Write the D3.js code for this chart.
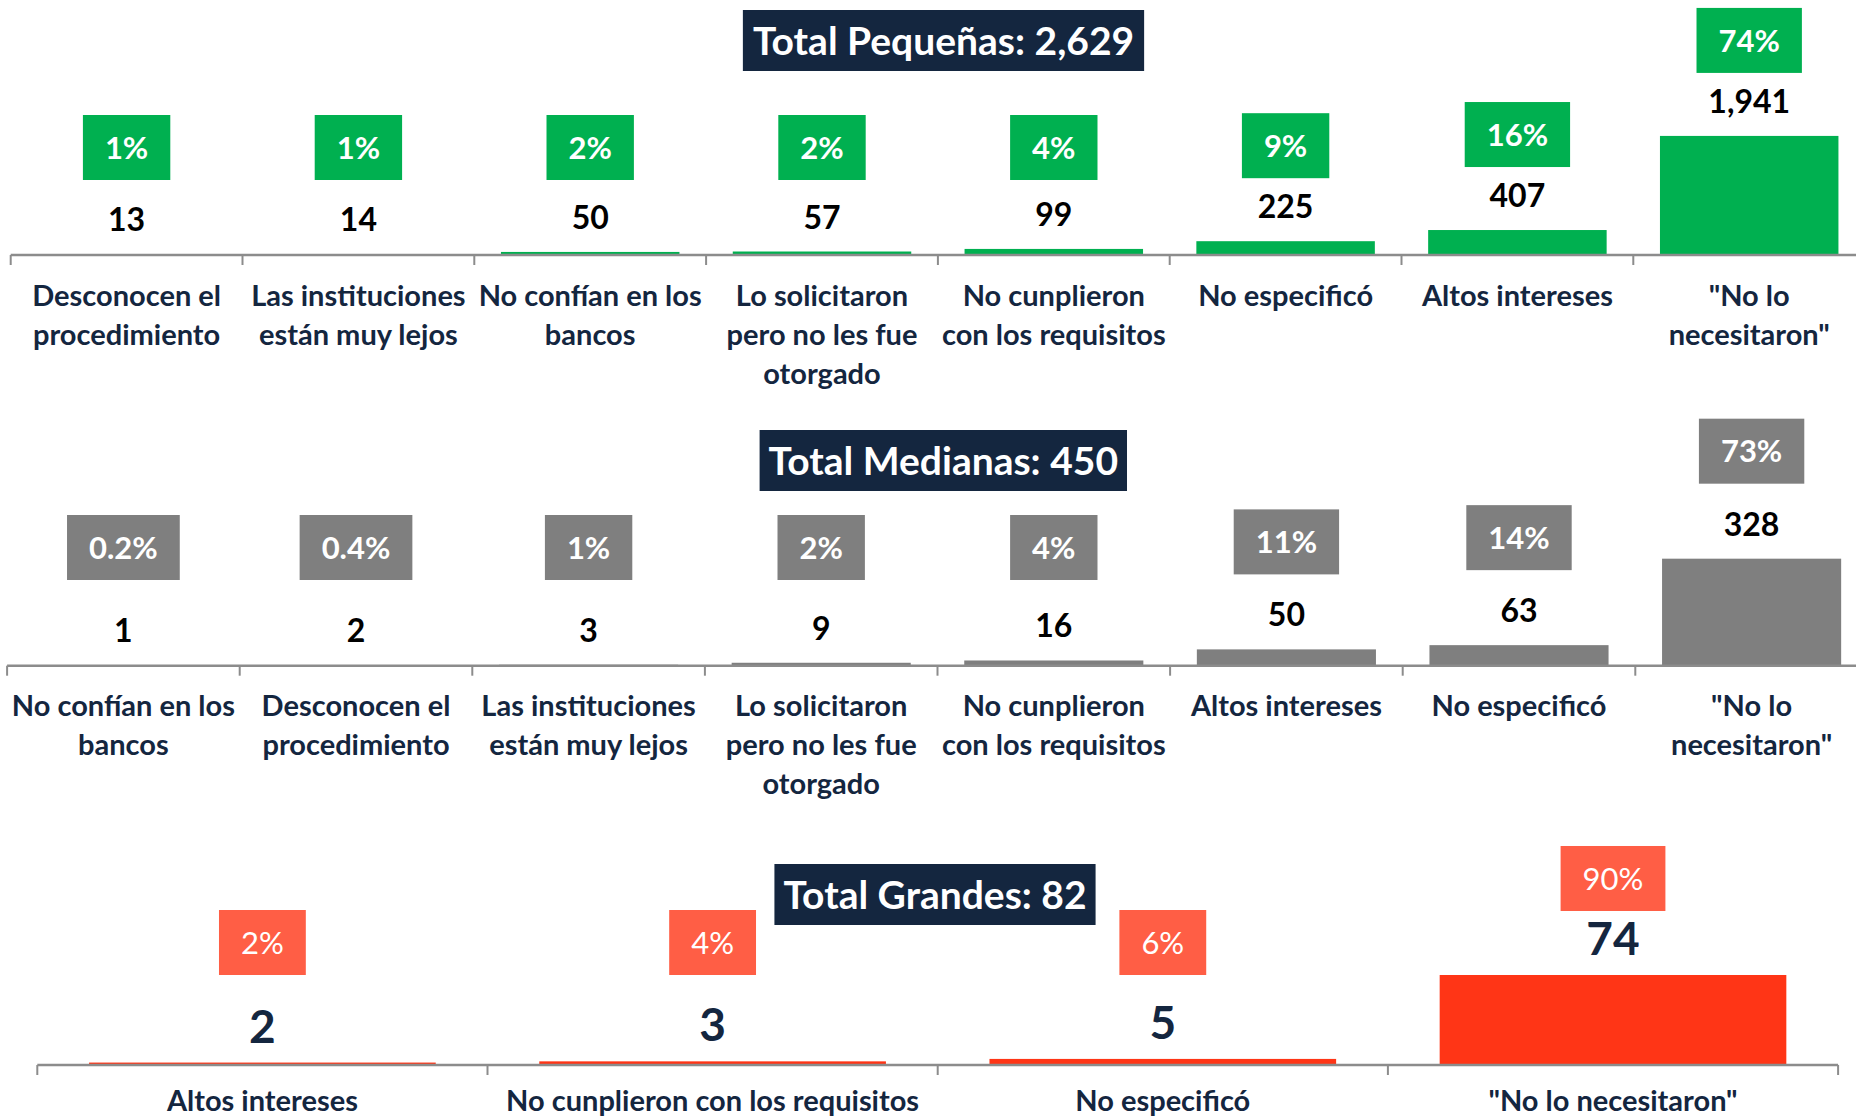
<!DOCTYPE html>
<html>
<head>
<meta charset="utf-8">
<script src="https://cdn.jsdelivr.net/npm/d3@7"></script>
<style>
  html, body { margin: 0; padding: 0; background: #ffffff; }
  svg { display: block; }
  text { font-family: Lato, "Open Sans", "Noto Sans", sans-serif; }
</style>
</head>
<body>
<svg id="chart" width="1856" height="1120"></svg>
<script>
// ---------------- DATA ----------------
const pequenasTitulo = "Total Pequeñas: 2,629";
const pequenasCategorias = [
  "Desconocen el\nprocedimiento",
  "Las instituciones\nestán muy lejos",
  "No confían en los\nbancos",
  "Lo solicitaron\npero no les fue\notorgado",
  "No cunplieron\ncon los requisitos",
  "No especificó",
  "Altos intereses",
  "\"No lo\nnecesitaron\""
];
const pequenasValores = [13, 14, 50, 57, 99, 225, 407, 1941];
const pequenasPorcentajes = ["1%", "1%", "2%", "2%", "4%", "9%", "16%", "74%"];

const medianasTitulo = "Total Medianas: 450";
const medianasCategorias = [
  "No confían en los\nbancos",
  "Desconocen el\nprocedimiento",
  "Las instituciones\nestán muy lejos",
  "Lo solicitaron\npero no les fue\notorgado",
  "No cunplieron\ncon los requisitos",
  "Altos intereses",
  "No especificó",
  "\"No lo\nnecesitaron\""
];
const medianasValores = [1, 2, 3, 9, 16, 50, 63, 328];
const medianasPorcentajes = ["0.2%", "0.4%", "1%", "2%", "4%", "11%", "14%", "73%"];

const grandesTitulo = "Total Grandes: 82";
const grandesCategorias = [
  "Altos intereses",
  "No cunplieron con los requisitos",
  "No especificó",
  "\"No lo necesitaron\""
];
const grandesValores = [2, 3, 5, 74];
const grandesPorcentajes = ["2%", "4%", "6%", "90%"];

// ---------------- STYLE / LAYOUT ----------------
const NAVY = "#14263F";
const AXIS = "#8C8C8C";

const panels = [
  {
    title: pequenasTitulo, cats: pequenasCategorias, vals: pequenasValores, pcts: pequenasPorcentajes,
    x0: 10.7, step: 231.8, axisY: 255, yMax: 2000, plotH: 122.7,
    barColor: "#00B050", boxColor: "#00B050",
    boxDefaultBottom: 180, boxGap: 40, labelGap: 23, catOffset: 51,
    valueColor: "#000000", valueSize: 32, pctWeight: "bold", pctSize: 31,
    titleCx: 943.5, titleY: 10, titleH: 61, titlePad: 10, titleSize: 39
  },
  {
    title: medianasTitulo, cats: medianasCategorias, vals: medianasValores, pcts: medianasPorcentajes,
    x0: 7.1, step: 232.6, axisY: 665.7, yMax: 350, plotH: 114.2,
    barColor: "#7F7F7F", boxColor: "#7F7F7F",
    boxDefaultBottom: 580, boxGap: 52, labelGap: 23, catOffset: 50,
    valueColor: "#000000", valueSize: 32, pctWeight: "bold", pctSize: 31,
    titleCx: 943.3, titleY: 430, titleH: 61, titlePad: 9, titleSize: 39
  },
  {
    title: grandesTitulo, cats: grandesCategorias, vals: grandesValores, pcts: grandesPorcentajes,
    x0: 37.3, step: 450.2, axisY: 1065, yMax: 80, plotH: 97.3,
    barColor: "#FF3516", boxColor: "#FF5E45",
    boxDefaultBottom: 975, boxGap: 44, labelGap: 20, catOffset: 46,
    valueColor: NAVY, valueSize: 46, pctWeight: "normal", pctSize: 31,
    titleCx: 935, titleY: 864, titleH: 61, titlePad: 9, titleSize: 39
  }
];

const svg = d3.select("#chart");
const fmt = d3.format(",");

panels.forEach(p => {
  const g = svg.append("g");
  const n = p.cats.length;
  const x = d3.scaleBand()
    .domain(p.cats)
    .range([p.x0, p.x0 + n * p.step])
    .paddingInner(0.23)
    .paddingOuter(0.115);
  const y = d3.scaleLinear()
    .domain([0, p.yMax])
    .range([p.axisY, p.axisY - p.plotH]);
  const rangeStart = x.range()[0];
  const stepW = x.step();
  const center = c => x(c) + x.bandwidth() / 2;

  // bars
  g.selectAll("rect.bar")
    .data(p.cats)
    .join("rect")
    .attr("class", "bar")
    .attr("x", c => x(c))
    .attr("width", x.bandwidth())
    .attr("y", (c, i) => y(p.vals[i]))
    .attr("height", (c, i) => y(0) - y(p.vals[i]))
    .attr("fill", p.barColor);

  // axis line and ticks at category boundaries
  g.append("line")
    .attr("x1", rangeStart).attr("x2", x.range()[1])
    .attr("y1", y(0)).attr("y2", y(0))
    .attr("stroke", AXIS).attr("stroke-width", 2.5);
  g.selectAll("line.tick")
    .data(d3.range(n + 1))
    .join("line")
    .attr("class", "tick")
    .attr("x1", i => rangeStart + i * stepW)
    .attr("x2", i => rangeStart + i * stepW)
    .attr("y1", y(0)).attr("y2", y(0) + 10)
    .attr("stroke", AXIS).attr("stroke-width", 2);

  // category labels
  const catG = g.selectAll("text.cat")
    .data(p.cats)
    .join("text")
    .attr("class", "cat")
    .attr("text-anchor", "middle")
    .attr("font-weight", "bold")
    .attr("font-size", 29)
    .attr("fill", NAVY);
  catG.each(function(c) {
    const lines = c.split("\n");
    const t = d3.select(this);
    lines.forEach((ln, k) => {
      t.append("tspan")
        .attr("x", center(c))
        .attr("y", y(0) + p.catOffset + k * 39)
        .text(ln);
    });
  });

  // value labels
  g.selectAll("text.val")
    .data(p.cats)
    .join("text")
    .attr("class", "val")
    .attr("text-anchor", "middle")
    .attr("font-weight", "bold")
    .attr("font-size", p.valueSize)
    .attr("fill", p.valueColor)
    .attr("x", c => center(c))
    .attr("y", (c, i) => y(p.vals[i]) - p.labelGap)
    .text((c, i) => fmt(p.vals[i]));

  // percentage boxes
  p.cats.forEach((c, i) => {
    const baseline = y(p.vals[i]) - p.labelGap;
    const bottom = Math.min(p.boxDefaultBottom, baseline - p.boxGap);
    const boxH = 65;
    const bg = g.append("g");
    const rect = bg.append("rect").attr("fill", p.boxColor);
    const txt = bg.append("text")
      .attr("text-anchor", "middle")
      .attr("font-weight", p.pctWeight)
      .attr("font-size", p.pctSize)
      .attr("fill", "#ffffff")
      .attr("x", center(c))
      .attr("y", bottom - boxH / 2 + p.pctSize * 0.36)
      .text(p.pcts[i]);
    const w = txt.node().getComputedTextLength() + 44;
    rect.attr("x", center(c) - w / 2)
      .attr("y", bottom - boxH)
      .attr("width", w)
      .attr("height", boxH);
  });

  // title box
  const tg = g.append("g");
  const trect = tg.append("rect").attr("fill", NAVY);
  const ttxt = tg.append("text")
    .attr("text-anchor", "middle")
    .attr("font-weight", "bold")
    .attr("font-size", p.titleSize)
    .attr("fill", "#ffffff")
    .attr("x", p.titleCx)
    .attr("y", p.titleY + p.titleH / 2 + p.titleSize * 0.36)
    .text(p.title);
  const tw = ttxt.node().getComputedTextLength() + 2 * p.titlePad;
  trect.attr("x", p.titleCx - tw / 2)
    .attr("y", p.titleY)
    .attr("width", tw)
    .attr("height", p.titleH);
});
</script>
</body>
</html>
